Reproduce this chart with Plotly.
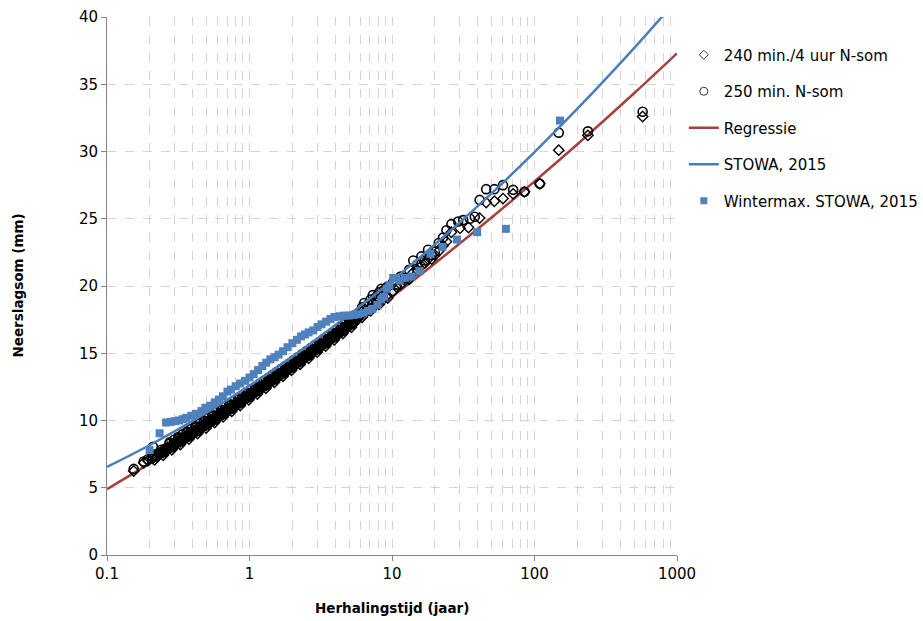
import plotly.graph_objects as go

# Return periods (years) and rainfall sums (mm)
# 240 min / 4 uur N-som
t_240 = [0.154, 0.181, 0.194,
         0.209, 0.224, 0.240, 0.257, 0.275, 0.295, 0.316, 0.339, 0.363, 0.389,
         0.417, 0.447, 0.479, 0.513, 0.550, 0.589, 0.631, 0.676, 0.724, 0.776,
         0.832, 0.891, 0.955, 1.023, 1.096, 1.175, 1.259, 1.349, 1.445, 1.549,
         1.660, 1.778, 1.905, 2.042, 2.188, 2.344, 2.512, 2.692, 2.884, 3.090,
         3.311, 3.548, 3.802, 4.074, 4.365, 4.677, 5.012, 5.370, 5.754, 6.166,
         6.607, 7.079, 7.586, 8.128, 8.710, 9.333,
         10.2, 10.8, 11.5, 12.3, 13.2, 14.1, 15.0, 16.1, 17.0, 17.9, 19.0, 20.0,
         21.3, 22.8, 24.1, 26.1, 30.0, 34.4, 41.2, 45.8, 52.3, 60.1, 70.8, 85.0,
         109, 148, 237, 574]
y_240 = [6.25, 6.85, 7.00,
         7.18, 7.28, 7.63, 7.67, 8.02, 8.07, 8.42, 8.47, 8.82, 8.87,
         9.23, 9.28, 9.64, 9.69, 10.05, 10.11, 10.46, 10.52, 10.88, 10.94,
         11.31, 11.37, 11.73, 11.80, 12.16, 12.23, 12.60, 12.66, 13.03, 13.10,
         13.47, 13.54, 13.91, 13.99, 14.36, 14.44, 14.81, 14.89, 15.27, 15.34,
         15.72, 15.80, 16.18, 16.26, 16.65, 16.73, 17.11, 17.20, 17.58, 17.67,
         18.06, 18.15, 18.54, 18.63, 19.02, 19.11,
         19.6, 19.9, 20.1, 20.4, 20.5, 21.0, 21.2, 21.5, 21.7, 22.0, 22.0, 22.3,
         22.6, 23.0, 23.3, 24.0, 24.3, 24.35, 25.05, 26.2, 26.3, 26.5, 26.85, 27.0,
         27.6, 30.1, 31.2, 32.6]
# interleaved return periods of the dense part of both records
t_dense_b = [0.216, 0.232, 0.248, 0.266, 0.285, 0.305, 0.327, 0.351, 0.376,
             0.403, 0.432, 0.463, 0.496, 0.531, 0.569, 0.610, 0.653, 0.700,
             0.750, 0.804, 0.861, 0.923, 0.989, 1.059, 1.135, 1.216, 1.303,
             1.396, 1.496, 1.603, 1.718, 1.841, 1.972, 2.113, 2.265, 2.427,
             2.600, 2.786, 2.985, 3.199, 3.428, 3.673, 3.936, 4.217, 4.519,
             4.842, 5.188, 5.559, 5.957, 6.383, 6.839, 7.328, 7.852, 8.414, 9.016]
y_240_b = [7.08, 7.58, 7.42, 8.02, 7.82, 8.42, 8.22, 8.82, 8.62,
           9.23, 9.03, 9.63, 9.44, 10.04, 9.85, 10.46, 10.27, 10.88,
           10.69, 11.30, 11.11, 11.73, 11.54, 12.15, 11.97, 12.59, 12.40,
           13.02, 12.84, 13.46, 13.28, 13.90, 13.73, 14.35, 14.17, 14.80,
           14.62, 15.25, 15.08, 15.71, 15.54, 16.17, 16.00, 16.63, 16.46,
           17.10, 16.93, 17.57, 17.80, 18.24, 18.28, 18.72, 18.76, 19.20, 19.24]
t_240_c = [0.248, 0.266, 0.285, 0.305, 0.327, 0.351, 0.376, 0.403, 0.432,
           0.463, 0.496, 0.531, 0.569, 0.610, 0.653, 0.700, 0.750, 0.804,
           0.861, 0.923, 0.989, 1.059, 1.135, 1.216, 1.303, 1.396, 1.496,
           1.603, 1.718, 1.841, 1.972, 2.113, 2.265, 2.427, 2.600, 2.786,
           2.985, 3.199, 3.428, 3.673, 3.936, 4.217, 4.519, 4.842, 5.188, 5.559]
y_240_c = [7.62, 7.82, 8.02, 8.22, 8.42, 8.62, 8.82, 9.03, 9.23,
           9.43, 9.64, 9.84, 10.05, 10.26, 10.47, 10.68, 10.89, 11.10,
           11.31, 11.53, 11.74, 11.95, 12.17, 12.39, 12.60, 12.82, 13.04,
           13.26, 13.48, 13.70, 13.93, 14.15, 14.37, 14.60, 14.82, 15.05,
           15.28, 15.51, 15.74, 15.97, 16.20, 16.43, 16.66, 16.90, 17.13, 17.37]

# 250 min N-som
t_250 = [0.154, 0.181, 0.194, 0.210,
         0.209, 0.224, 0.240, 0.257, 0.275, 0.295, 0.316, 0.339, 0.363, 0.389,
         0.417, 0.447, 0.479, 0.513, 0.550, 0.589, 0.631, 0.676, 0.724, 0.776,
         0.832, 0.891, 0.955, 1.023, 1.096, 1.175, 1.259, 1.349, 1.445, 1.549,
         1.660, 1.778, 1.905, 2.042, 2.188, 2.344, 2.512, 2.692, 2.884, 3.090,
         3.311, 3.548, 3.802, 4.074, 4.365, 4.677, 5.012, 5.370, 5.754, 6.166,
         6.607, 7.079, 7.586, 8.128, 8.710, 9.333,
         10.2, 10.8, 11.5, 12.3, 13.2, 14.1, 15.0, 16.1, 17.0, 17.9, 19.0, 20.0,
         21.3, 22.8, 24.1, 26.1, 29.1, 31.6, 35.2, 38.1, 41.2, 45.8, 52.3, 60.1,
         70.8, 85.0, 109, 148, 237, 574]
y_250 = [6.40, 6.95, 7.12, 8.05,
         7.28, 7.53, 7.83, 7.92, 8.27, 8.32, 8.67, 8.72, 9.07, 9.12,
         9.48, 9.53, 9.89, 9.94, 10.30, 10.36, 10.71, 10.77, 11.13, 11.19,
         11.56, 11.62, 11.98, 12.05, 12.41, 12.48, 12.85, 12.91, 13.28, 13.35,
         13.72, 13.79, 14.16, 14.24, 14.61, 14.69, 15.06, 15.14, 15.52, 15.59,
         15.97, 16.05, 16.43, 16.51, 16.90, 17.18, 17.31, 17.80, 17.88, 18.42,
         18.51, 19.00, 19.09, 19.53, 19.62, 19.96,
         20.3, 20.1, 20.7, 20.6, 21.2, 21.9, 21.6, 22.2, 21.9, 22.7, 22.3, 22.55,
         23.2, 23.6, 24.15, 24.6, 24.8, 24.9, 25.0, 25.15, 26.4, 27.2, 27.2, 27.5,
         27.15, 27.0, 27.6, 31.4, 31.5, 32.95]
y_250_b = [7.33, 7.53, 7.72, 7.92, 8.12, 8.32, 8.52, 8.72, 8.92,
           9.13, 9.33, 9.53, 9.74, 9.94, 10.15, 10.36, 10.57, 10.78,
           10.99, 11.20, 11.41, 11.63, 11.84, 12.05, 12.27, 12.49, 12.70,
           12.92, 13.14, 13.36, 13.58, 13.80, 14.03, 14.25, 14.47, 14.70,
           14.92, 15.15, 15.38, 15.61, 15.84, 16.07, 16.30, 16.53, 16.76,
           17.00, 17.23, 17.77, 18.10, 18.74, 18.68, 19.32, 19.26, 19.80, 19.84]
t_250_c = [0.275, 0.295, 0.316, 0.339, 0.363, 0.389, 0.417, 0.447, 0.479,
           0.513, 0.550, 0.589, 0.631, 0.676, 0.724, 0.776, 0.832, 0.891,
           0.955, 1.023, 1.096, 1.175, 1.259, 1.349, 1.445, 1.549, 1.660,
           1.778, 1.905, 2.042, 2.188, 2.344, 2.512, 2.692, 2.884, 3.090,
           3.311, 3.548, 3.802, 4.074, 4.365, 4.677, 5.012, 5.370, 5.754]
y_250_c = [8.37, 8.57, 8.77, 8.97, 9.17, 9.37, 9.58, 9.78, 9.99,
           10.19, 10.40, 10.61, 10.81, 11.02, 11.23, 11.44, 11.66, 11.87,
           12.08, 12.30, 12.51, 12.73, 12.95, 13.16, 13.38, 13.60, 13.82,
           14.04, 14.26, 14.49, 14.71, 14.94, 15.16, 15.39, 15.62, 15.84,
           16.07, 16.30, 16.53, 16.76, 17.00, 17.23, 17.46, 17.70, 17.93]

# Wintermax. STOWA, 2015
t_win = [0.199, 0.234, 0.26, 0.28, 0.30, 0.32, 0.34, 0.36, 0.39, 0.42, 0.46,
         0.49, 0.53, 0.57, 0.61, 0.65, 0.70, 0.74, 0.80, 0.86, 0.93, 1.0, 1.07,
         1.15, 1.23, 1.31, 1.40, 1.50, 1.6, 1.72, 1.85, 2.0, 2.15, 2.3, 2.45,
         2.6, 2.8, 3.0, 3.2, 3.45, 3.7, 3.95, 4.3, 4.6, 5.0, 5.4, 5.8, 6.3, 6.8,
         7.3, 7.9, 8.4, 8.8, 9.2, 9.6, 10.2, 11.3, 12.3, 13.7, 15.6, 18.6, 22.6,
         28.6, 39.6, 63.0, 151]
y_win = [7.8, 9.05, 9.85, 9.9, 9.95, 10.0, 10.1, 10.2, 10.35, 10.5, 10.7,
         10.95, 11.1, 11.35, 11.55, 11.8, 12.15, 12.3, 12.55, 12.75, 12.95, 13.2,
         13.45, 13.75, 14.05, 14.3, 14.55, 14.7, 14.9, 15.15, 15.45, 15.75, 16.0,
         16.25, 16.4, 16.55, 16.7, 16.95, 17.15, 17.35, 17.55, 17.7, 17.75, 17.8,
         17.8, 17.85, 17.9, 18.0, 18.15, 18.3, 18.6, 19.0, 19.2, 19.8, 20.05,
         20.6, 20.4, 20.6, 20.7, 21.1, 22.4, 22.9, 23.45, 24.0, 24.25, 32.3]

# Fitted curves, tabulated per return period
t_curve = [0.1, 0.2, 0.5, 1, 2, 5, 10, 20, 50, 100, 200, 500, 1000]
y_regressie = [4.90, 6.81, 9.47, 11.58, 13.77, 16.81, 19.20, 21.68, 25.09,
               27.78, 30.54, 34.33, 37.30]
y_stowa = [6.55, 8.18, 10.59, 12.59, 14.75, 17.86, 20.39, 23.09, 26.89,
           29.96, 33.18, 37.69, 41.29]

x_tickvals = [0.1, 1, 10, 100, 1000]
x_ticktext = ["0.1", "1", "10", "100", "1000"]
y_tickvals = [0, 5, 10, 15, 20, 25, 30, 35, 40]

RED = "#A5403D"
BLUE = "#4A7EBB"
SQUARE = "#4F81BD"
FONT = "DejaVu Sans"

diamond = dict(symbol="diamond-open", size=8, color="black",
               line=dict(width=1.4, color="black"))
circle = dict(symbol="circle-open", size=9, color="black",
              line=dict(width=1.6, color="black"))
square = dict(symbol="square", size=8, color=SQUARE)

fig = go.Figure()

# data traces (drawing order: red line under the markers)
fig.add_trace(go.Scatter(
    x=t_curve, y=y_regressie, mode="lines", name="Regressie",
    line=dict(color=RED, width=2.5, shape="spline"),
    legendrank=3, legendgroup="c"))
fig.add_trace(go.Scatter(
    x=t_240 + t_dense_b + t_240_c, y=y_240 + y_240_b + y_240_c,
    mode="markers", name="240 min./4 uur N-som", marker=diamond,
    showlegend=False, legendgroup="a"))
fig.add_trace(go.Scatter(
    x=t_250 + t_dense_b + t_250_c, y=y_250 + y_250_b + y_250_c,
    mode="markers", name="250 min. N-som", marker=circle,
    showlegend=False, legendgroup="b"))
fig.add_trace(go.Scatter(
    x=t_curve, y=y_stowa, mode="lines", name="STOWA, 2015",
    line=dict(color=BLUE, width=2.5, shape="spline"),
    legendrank=4, legendgroup="d"))
fig.add_trace(go.Scatter(
    x=t_win, y=y_win, mode="markers", name="Wintermax. STOWA, 2015",
    marker=square, showlegend=False, legendgroup="e"))

# legend entries with the lighter key symbols
fig.add_trace(go.Scatter(
    x=[None], y=[None], mode="markers", name="240 min./4 uur N-som",
    marker=dict(symbol="diamond-open", size=7, color="#333333",
                line=dict(width=1, color="#333333")),
    legendrank=1, legendgroup="a"))
fig.add_trace(go.Scatter(
    x=[None], y=[None], mode="markers", name="250 min. N-som",
    marker=dict(symbol="circle-open", size=8, color="#333333",
                line=dict(width=1, color="#333333")),
    legendrank=2, legendgroup="b"))
fig.add_trace(go.Scatter(
    x=[None], y=[None], mode="markers", name="Wintermax. STOWA, 2015",
    marker=dict(symbol="square", size=7, color=SQUARE),
    legendrank=5, legendgroup="e"))

grid = "#D4D4D4"
axis_line = "#868686"

fig.update_xaxes(
    type="log", range=[-1, 3],
    tickvals=x_tickvals, ticktext=x_ticktext,
    showgrid=True, gridcolor=grid, griddash="dash", gridwidth=1,
    minor=dict(dtick="D1", showgrid=True, gridcolor=grid, griddash="dash",
               gridwidth=1, ticks=""),
    showline=True, linecolor=axis_line, linewidth=1,
    ticks="outside", ticklen=5, tickcolor=axis_line,
    tickfont=dict(family=FONT, size=15, color="black"),
    zeroline=False,
)
fig.update_yaxes(
    range=[0, 40], tickvals=y_tickvals,
    showgrid=True, gridcolor=grid, griddash="dash", gridwidth=1,
    showline=True, linecolor=axis_line, linewidth=1,
    ticks="outside", ticklen=5, tickcolor=axis_line,
    tickfont=dict(family=FONT, size=15, color="black"),
    zeroline=False,
)

fig.update_layout(
    width=923, height=621,
    margin=dict(l=107, r=246, t=17, b=66, autoexpand=False),
    paper_bgcolor="white", plot_bgcolor="white",
    font=dict(family=FONT, size=15, color="black"),
    showlegend=True,
    legend=dict(x=1.012, y=0.960, xanchor="left", yanchor="top",
                font=dict(family=FONT, size=15, color="black"),
                tracegroupgap=14, bgcolor="rgba(0,0,0,0)"),
    annotations=[
        dict(text="<b>Neerslagsom (mm)</b>", xref="paper", yref="paper",
             x=-0.157, y=0.5, textangle=-90, showarrow=False,
             font=dict(family=FONT, size=13.5, color="black"),
             xanchor="center", yanchor="middle"),
        dict(text="<b>Herhalingstijd (jaar)</b>", xref="paper", yref="paper",
             x=0.5, y=-0.0985, showarrow=False,
             font=dict(family=FONT, size=13.5, color="black"),
             xanchor="center", yanchor="middle"),
    ],
)

fig.write_html("out.html")
